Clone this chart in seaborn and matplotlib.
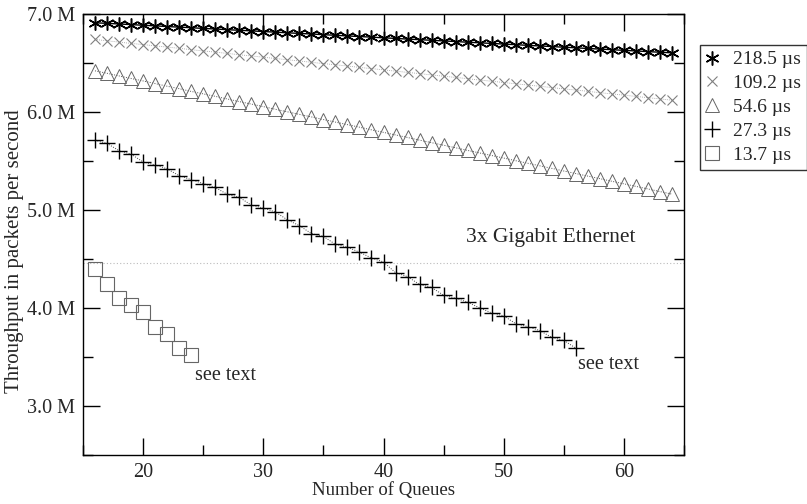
import matplotlib
matplotlib.use("Agg")
import matplotlib.pyplot as plt
import seaborn as sns
import numpy as np
from matplotlib.ticker import MultipleLocator, FuncFormatter

# ---- data (millions of packets per second) ----
x_long = list(range(16, 65))
x_plus = list(range(16, 57))
x_square = list(range(16, 25))

s218 = [6.910, 6.905, 6.898, 6.892, 6.885, 6.879, 6.872, 6.866, 6.860, 6.853,
        6.847, 6.840, 6.834, 6.828, 6.821, 6.815, 6.808, 6.802, 6.796, 6.789,
        6.783, 6.776, 6.770, 6.764, 6.757, 6.751, 6.744, 6.738, 6.732, 6.725,
        6.719, 6.712, 6.706, 6.700, 6.693, 6.687, 6.680, 6.674, 6.668, 6.661,
        6.655, 6.648, 6.642, 6.636, 6.629, 6.623, 6.616, 6.610, 6.604]
s109 = [6.740, 6.727, 6.713, 6.700, 6.688, 6.675, 6.662, 6.650, 6.636, 6.623,
        6.611, 6.598, 6.584, 6.572, 6.559, 6.546, 6.533, 6.521, 6.507, 6.494,
        6.482, 6.469, 6.455, 6.443, 6.430, 6.417, 6.404, 6.392, 6.378, 6.365,
        6.353, 6.340, 6.326, 6.314, 6.301, 6.288, 6.275, 6.263, 6.249, 6.236,
        6.224, 6.211, 6.197, 6.185, 6.172, 6.159, 6.146, 6.134, 6.120]
s54 = [6.420, 6.395, 6.368, 6.342, 6.317, 6.290, 6.263, 6.238, 6.210, 6.185,
       6.160, 6.133, 6.106, 6.081, 6.055, 6.028, 6.002, 5.976, 5.950, 5.923,
       5.897, 5.871, 5.845, 5.818, 5.792, 5.766, 5.740, 5.713, 5.687, 5.661,
       5.635, 5.608, 5.582, 5.556, 5.530, 5.503, 5.477, 5.451, 5.425, 5.398,
       5.372, 5.346, 5.320, 5.293, 5.267, 5.241, 5.215, 5.188, 5.162]
s27 = [5.71, 5.68, 5.605, 5.57, 5.49, 5.46, 5.42, 5.35, 5.31, 5.27,
       5.23, 5.16, 5.13, 5.05, 5.02, 4.98, 4.90, 4.84, 4.76, 4.73,
       4.65, 4.62, 4.57, 4.51, 4.47, 4.36, 4.32, 4.24, 4.21, 4.13,
       4.10, 4.06, 4.00, 3.95, 3.92, 3.84, 3.81, 3.77, 3.70, 3.67,
       3.59]
s13 = [4.40, 4.25, 4.105, 4.03, 3.96, 3.81, 3.73, 3.59, 3.52]
gigabit = 4.464

labels = ["218.5 µs", "109.2 µs", "54.6 µs", "27.3 µs", "13.7 µs"]

sns.set_style("ticks")
plt.rcParams["font.family"] = ["Liberation Serif", "DejaVu Serif"]

fig = plt.figure(figsize=(8.07, 5.04), dpi=100)
ax = fig.add_axes([83/807, 1-455/504, (684-83)/807, (455-14)/504])

# reference line
ax.axhline(gigabit, color="#bbbbbb", lw=0.8, ls=(0, (1, 2)), zorder=1)

sns.lineplot(x=x_long, y=s218, ax=ax, color="black", lw=1.0, ls="-",
             marker=(6, 2, 0), markersize=10, mec="black", mew=1.1,
             label=labels[0])
sns.lineplot(x=x_long, y=s109, ax=ax, color="#999999", lw=0.6, ls=(0, (1, 1.5)),
             marker="x", markersize=6.5, mec="#808080", mew=0.8,
             label=labels[1])
sns.lineplot(x=x_long, y=s54, ax=ax, color="#555555", lw=0.7, ls=(0, (1, 1.5)),
             marker="^", markersize=10, mfc="none", mec="#666666", mew=0.7,
             label=labels[2])
sns.lineplot(x=x_plus, y=s27, ax=ax, color="#444444", lw=0.7, ls=(0, (1, 1.5)),
             marker="+", markersize=11, mec="black", mew=1.0, label=labels[3])
sns.lineplot(x=x_square, y=s13, ax=ax, color="#888888", lw=0.0,
             marker="s", markersize=10, mfc="none", mec="#666666", mew=0.8,
             label=labels[4])

ax.set_xlim(15, 65)
ax.set_ylim(2.5, 7.0)
ax.xaxis.set_major_locator(MultipleLocator(10))
ax.xaxis.set_minor_locator(MultipleLocator(5))
ax.yaxis.set_major_locator(MultipleLocator(1.0))
ax.yaxis.set_minor_locator(MultipleLocator(0.5))
ax.yaxis.set_major_formatter(FuncFormatter(lambda v, p: f"{v:.1f} M"))

ax.tick_params(which="both", direction="in", top=True, right=True,
               labelsize=14.5, width=1.0, color="black")
ax.tick_params(which="major", length=12, pad=6)
ax.tick_params(which="minor", length=7)
for s in ax.spines.values():
    s.set_visible(True)
    s.set_color("black")
    s.set_linewidth(1.0)

ax.set_xlabel("Number of Queues", fontsize=13.5, labelpad=0)
ax.set_ylabel("Throughput in packets per second", fontsize=15, labelpad=3)
ax.yaxis.set_label_coords(-0.098, 0.463)

ax.text(61.0, 4.62, "3x Gigabit Ethernet", fontsize=15.5, ha="right", va="bottom")
ax.text(24.3, 3.31, "see text", fontsize=14.5, ha="left", va="center")
ax.text(56.2, 3.42, "see text", fontsize=14.5, ha="left", va="center")

handles, labs = ax.get_legend_handles_labels()
ax.get_legend().remove()
leg = fig.legend(handles, labs, loc="upper left",
                 bbox_to_anchor=(700/807, 1-45/504), frameon=True,
                 fancybox=False, fontsize=14, handlelength=0.6,
                 handletextpad=0.8, borderpad=0.3, borderaxespad=0.0,
                 labelspacing=0.32)
leg.get_frame().set_edgecolor("black")
leg.get_frame().set_linewidth(1.0)
for h in leg.legend_handles:
    h.set_linestyle("none")

fig.savefig("out.png", dpi=100)
